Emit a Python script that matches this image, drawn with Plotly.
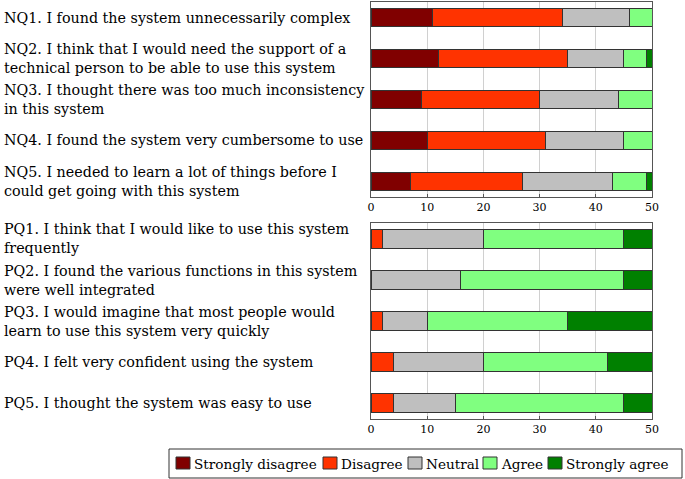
import plotly.graph_objects as go
from plotly.subplots import make_subplots

categories = ["Strongly disagree", "Disagree", "Neutral", "Agree", "Strongly agree"]
colors = ["#800000", "#ff3300", "#bfbfbf", "#80ff80", "#008000"]

nq_labels = [
    "NQ1. I found the system unnecessarily complex",
    "NQ2. I think that I would need the support of a<br>technical person to be able to use this system",
    "NQ3. I thought there was too much inconsistency<br>in this system",
    "NQ4. I found the system very cumbersome to use",
    "NQ5. I needed to learn a lot of things before I<br>could get going with this system",
]
pq_labels = [
    "PQ1. I think that I would like to use this system<br>frequently",
    "PQ2. I found the various functions in this system<br>were well integrated",
    "PQ3. I would imagine that most people would<br>learn to use this system very quickly",
    "PQ4. I felt very confident using the system",
    "PQ5. I thought the system was easy to use",
]

# values per category, per question (NQ1..NQ5)
nq_values = {
    "Strongly disagree": [11, 12, 9, 10, 7],
    "Disagree": [23, 23, 21, 21, 20],
    "Neutral": [12, 10, 14, 14, 16],
    "Agree": [4, 4, 6, 5, 6],
    "Strongly agree": [0, 1, 0, 0, 1],
}
pq_values = {
    "Strongly disagree": [0, 0, 0, 0, 0],
    "Disagree": [2, 0, 2, 4, 4],
    "Neutral": [18, 16, 8, 16, 11],
    "Agree": [25, 29, 25, 22, 30],
    "Strongly agree": [5, 5, 15, 8, 5],
}
x_ticks = [0, 10, 20, 30, 40, 50]

FONT = "DejaVu Serif"

fig = make_subplots(rows=2, cols=1, vertical_spacing=0.06)

nq_ids = [f"NQ{i+1}" for i in range(5)]
pq_ids = [f"PQ{i+1}" for i in range(5)]

for cat, col in zip(categories, colors):
    fig.add_trace(go.Bar(y=nq_ids, x=nq_values[cat], orientation="h", name=cat,
                         marker=dict(color=col, line=dict(color="#333333", width=1)),
                         width=0.44, showlegend=False), row=1, col=1)
    fig.add_trace(go.Bar(y=pq_ids, x=pq_values[cat], orientation="h", name=cat,
                         marker=dict(color=col, line=dict(color="#333333", width=1)),
                         width=0.44, showlegend=False), row=2, col=1)

L, R, T, B = 371, 33, 2, 60
W, H = 685, 479
ph = H - T - B
pw = W - L - R

def px_x(px):
    return (px - L) / pw

def px_y(py):
    return (H - B - py) / ph

def dom(top_px, bot_px):
    return [px_y(bot_px), px_y(top_px)]

fig.update_layout(
    width=W, height=H, margin=dict(l=L, r=R, t=T, b=B, autoexpand=False),
    barmode="stack", bargap=0.5,
    plot_bgcolor="white", paper_bgcolor="white",
    font=dict(family=FONT, size=14, color="black"),
    yaxis=dict(domain=dom(2, 197)),
    yaxis2=dict(domain=dom(223, 419)),
    showlegend=False,
)

for ax in ["xaxis", "xaxis2"]:
    fig.layout[ax].update(range=[0, 50], tickvals=x_ticks, showgrid=True,
                          gridcolor="#d0d0d0", gridwidth=1, zeroline=False,
                          showline=True, linecolor="#555555", mirror=True,
                          ticks="inside", ticklen=3, tickcolor="#555555",
                          tickfont=dict(family=FONT, size=11))
for ax in ["yaxis", "yaxis2"]:
    fig.layout[ax].update(range=[4.39, -0.39], showticklabels=False, showgrid=False,
                          zeroline=False, showline=True, linecolor="#555555", mirror=True,
                          ticks="")

xpos = px_x(2)
for ids, labels, yref in [(nq_ids, nq_labels, "y"), (pq_ids, pq_labels, "y2")]:
    for qid, lab in zip(ids, labels):
        fig.add_annotation(x=xpos, xref="paper", y=qid, yref=yref, text=lab,
                           showarrow=False, xanchor="left", yanchor="middle",
                           align="left", font=dict(family=FONT, size=14.3))

# Legend (drawn as a box with swatches and labels)
fig.add_shape(type="rect", xref="paper", yref="paper",
              x0=px_x(169), x1=px_x(682), y0=px_y(478), y1=px_y(449),
              line=dict(color="#333333", width=1), fillcolor="white")
swatch_left = [176, 323, 408, 483, 548]
ly = 463
for cat, col, sx in zip(categories, colors, swatch_left):
    fig.add_shape(type="rect", xref="paper", yref="paper",
                  x0=px_x(sx), x1=px_x(sx + 14), y0=px_y(ly + 6), y1=px_y(ly - 6),
                  line=dict(color="#333333", width=1), fillcolor=col)
    fig.add_annotation(x=px_x(sx + 16), xref="paper", y=px_y(ly + 1), yref="paper",
                       text=cat, showarrow=False, xanchor="left", yanchor="middle",
                       font=dict(family=FONT, size=13.6))

fig.write_html("out.html", config={"displayModeBar": False},
               post_script="document.body.style.margin='0';")
